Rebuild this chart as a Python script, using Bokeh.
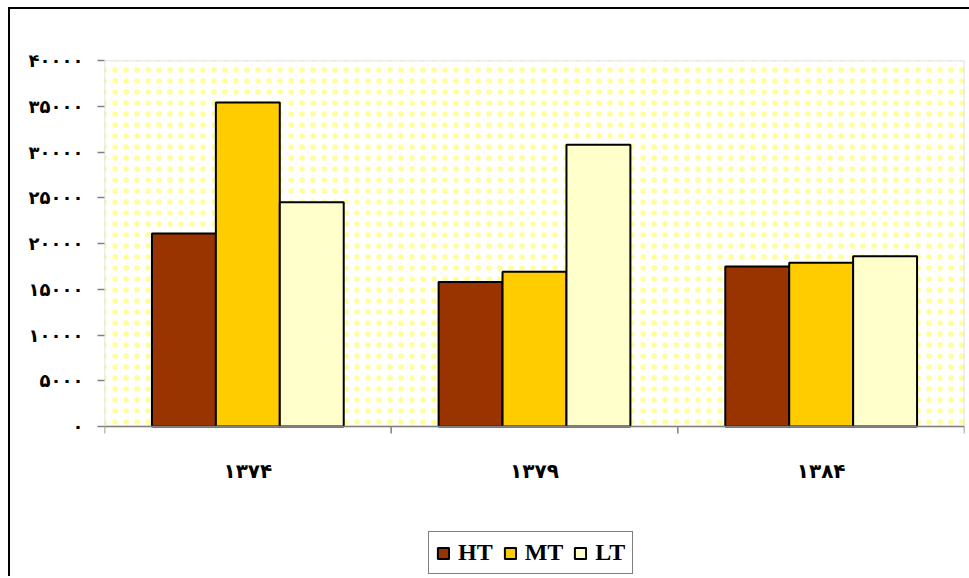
from bokeh.plotting import figure
from bokeh.models import (ColumnDataSource, Range1d, FixedTicker,
                          Legend, LegendItem, BoxAnnotation)
from bokeh.core.properties import value
from bokeh.embed import file_html
from bokeh.resources import INLINE

categories = ["۱۳۷۴", "۱۳۷۹", "۱۳۸۴"]
series_names = ["HT", "MT", "LT"]
HT = [21100, 15800, 17500]
MT = [35400, 16900, 17900]
LT = [24500, 30800, 18600]
y_ticks = [0, 5000, 10000, 15000, 20000, 25000, 30000, 35000, 40000]
y_tick_labels = ["۰", "۵۰۰۰", "۱۰۰۰۰", "۱۵۰۰۰", "۲۰۰۰۰", "۲۵۰۰۰", "۳۰۰۰۰", "۳۵۰۰۰", "۴۰۰۰۰"]
colors = ["#993300", "#FFCC00", "#FFFFCC"]

n = len(categories)
bw = 0.223
centers = [i + 0.5 for i in range(n)]
y_max = y_ticks[-1]

# frame geometry: plotting area 366px tall, extra room below for labels + legend
plot_px = 366
frame_h = 516
upp = y_max / plot_px            # data units per pixel
y_min = -(frame_h - plot_px) * upp

p = figure(frame_width=860, frame_height=frame_h, x_range=Range1d(0, n), y_range=Range1d(y_min, y_max),
           output_backend="svg", toolbar_location=None,
           min_border_left=94, min_border_right=5, min_border_top=51, min_border_bottom=0)
p.styles = {"margin-left": "8px", "margin-top": "7px",
            "border-left": "2px solid black", "border-top": "2px solid black"}
p.xgrid.visible = False
p.ygrid.visible = False
p.xaxis.visible = False
p.outline_line_color = None
p.background_fill_color = "white"
p.border_fill_color = "white"

# plot area: white with pale-yellow dots and grey border
bg = BoxAnnotation(bottom=0, fill_color="white", fill_alpha=1, line_color="#808080", line_width=1.5,
                   level="underlay", hatch_pattern="dot", hatch_color="#FFFF99",
                   hatch_scale=11, hatch_weight=1.1)
p.add_layout(bg)

renderers = []
for k, (name, vals) in enumerate(zip(series_names, [HT, MT, LT])):
    xs = [c + (k - 1) * bw for c in centers]
    src = ColumnDataSource(dict(x=xs, top=vals))
    r = p.vbar(x="x", top="top", bottom=0, width=bw, source=src, fill_color=colors[k],
               line_color="black", line_width=2)
    renderers.append(r)

# x axis line and boundary ticks
bounds = list(range(n + 1))
p.segment(x0=[0], y0=[0], x1=[n], y1=[0], line_color="#808080", line_width=1.5)
p.segment(x0=bounds, y0=[0] * len(bounds), x1=bounds, y1=[-7 * upp] * len(bounds),
          line_color="#808080", line_width=1.5)

# category labels
p.text(x=centers, y=[-44 * upp] * n, text=categories, text_align="center", text_baseline="middle",
       text_font=value("DejaVu Sans"), text_font_style="bold", text_font_size="20px",
       text_color="black")

# y axis
p.yaxis.ticker = FixedTicker(ticks=y_ticks)
p.yaxis.major_label_overrides = {t: l for t, l in zip(y_ticks, y_tick_labels)}
p.yaxis.axis_line_color = None
p.yaxis.major_tick_line_color = "#808080"
p.yaxis.major_tick_line_width = 1.5
p.yaxis.major_tick_out = 7
p.yaxis.major_tick_in = 0
p.yaxis.minor_tick_line_color = None
p.yaxis.major_label_text_font = "DejaVu Sans"
p.yaxis.major_label_text_font_style = "bold"
p.yaxis.major_label_text_font_size = "18px"
p.yaxis.major_label_text_color = "black"
p.yaxis.major_label_standoff = 14

legend = Legend(items=[LegendItem(label=nm, renderers=[r]) for nm, r in zip(series_names, renderers)],
                orientation="horizontal", location=(324, 2))
legend.label_text_font = "Liberation Serif"
legend.label_text_font_style = "bold"
legend.label_text_font_size = "24px"
legend.label_text_color = "black"
legend.glyph_width = 14
legend.glyph_height = 14
legend.spacing = 10
legend.label_standoff = 8
legend.padding = 7
legend.margin = 0
legend.border_line_color = "black"
legend.border_line_width = 1
legend.background_fill_color = "white"
p.add_layout(legend, "center")

open("out.html", "w").write(file_html(p, INLINE))
